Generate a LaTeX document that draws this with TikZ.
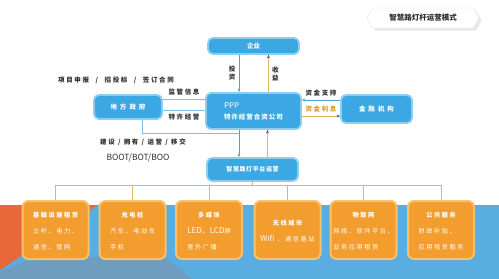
\documentclass[tikz,border=0pt]{standalone}
\usepackage{fontspec}
\setmainfont{Noto Sans CJK SC}
\newfontfamily\widecjk[LetterSpace=25]{Noto Sans CJK SC}
\usepackage{tikz}
\usetikzlibrary{arrows.meta,positioning,calc,shapes.symbols,shadows}
\definecolor{lampBlue}{HTML}{3BA8E4}
\definecolor{lampRim}{HTML}{8CCDF0}
\definecolor{lineBlue}{HTML}{4AA3D6}
\definecolor{lineTan}{HTML}{E3B462}
\definecolor{tipInk}{HTML}{4A5A6A}
\definecolor{svcOrange}{HTML}{F39D2E}
\definecolor{svcRim}{HTML}{F7C26E}
\definecolor{noteInk}{HTML}{2E2E2E}
\definecolor{noteGold}{HTML}{E09B2A}
\definecolor{bandBlue}{HTML}{5AADE0}
\definecolor{bandRed}{HTML}{E8683A}
\definecolor{bandSteel}{HTML}{6F9DC0}
\newcommand{\svc}[3]{\begin{tabular}{@{}l@{}}\multicolumn{1}{@{}c@{}}{\bfseries #1}\\#2\\#3\end{tabular}}
\newcommand{\bigtxt}[1]{{\rmfamily\fontsize{8}{16}\selectfont #1}}
\tikzset{
  lampbox/.style={rounded corners=5pt, fill=lampBlue, draw=lampRim, line width=1.8pt,
                  text=white, align=center, inner sep=2pt, font=\fontsize{6.5}{9}\selectfont\bfseries},
  svcbox/.style={rounded corners=6pt, fill=svcOrange, draw=svcRim, line width=2pt, text=white,
                 minimum width=66pt, minimum height=58pt, align=center, inner sep=2pt,
                 font=\widecjk\fontsize{6.2}{16}\selectfont},
  barr/.style={-{Stealth[length=3.5pt,width=3pt]}, line width=0.8pt, draw=lineBlue},
  oarr/.style={-{Stealth[length=3.5pt,width=3pt,color=tipInk]}, line width=0.8pt, draw=lineTan},
  bline/.style={line width=0.8pt, draw=lineBlue!70},
  tline/.style={line width=0.9pt, draw=lineTan},
  lampnote/.style={font=\widecjk\fontsize{6.5}{8}\selectfont\bfseries, text=noteInk, align=center},
  banner/.style={shape=signal, signal to=west and east, signal pointer angle=120, fill=white,
                 draw=gray!20, drop shadow={opacity=0.18}, minimum width=112pt, minimum height=20pt,
                 font=\fontsize{7.5}{9}\selectfont\bfseries, text=noteInk},
}
\begin{document}
\begin{tikzpicture}[x=1pt, y=-1pt]
  \useasboundingbox (0,0) rectangle (499,279);
  % bottom band
  \fill[bandBlue] (0,205) rectangle (499,279);
  \fill[bandSteel] (0,279) -- (0,272) -- (25,261) -- (160,253) -- (192,279) -- cycle;
  \fill[bandRed] (0,205) -- (98,205) -- (0,270) -- cycle;

  \node[banner] (title) at (423,18) {智慧路灯杆运营模式};

  \node[lampbox, minimum width=91pt, minimum height=16pt] (qiye) at (253.5,46) {企业};
  \node[lampbox, minimum width=95pt, minimum height=36pt, align=left] (ppp) at (253.5,111)
    {{\fontsize{8}{10}\selectfont\mdseries PPP}\\[2pt]特\kern1pt 许\kern1pt 经\kern1pt 营\kern1pt 合\kern1pt 资\kern1pt 公\kern1pt 司};
  \node[lampbox, minimum width=68pt, minimum height=24pt] (zf) at (128,107) {地\kern3pt 方\kern3pt 政\kern3pt 府};
  \node[lampbox, minimum width=71pt, minimum height=28pt] (jr) at (376.5,109) {金\kern3pt 融\kern3pt 机\kern3pt 构};
  \node[lampbox, minimum width=91pt, minimum height=23pt, font=\fontsize{6}{8}\selectfont\bfseries] (pt) at (252.5,169.5) {智\kern.6pt 慧\kern.6pt 路\kern.6pt 灯\kern.6pt 平\kern.6pt 台\kern.6pt 运\kern.6pt 营};

  \node[svcbox] (s1) at (55.5,230) {\svc{基础设施租赁}{立杆、电力、}{通信、管网}};
  \node[svcbox] (s2) at (132.5,230) {\svc{充电桩}{汽车、电动车}{手机}};
  \node[svcbox] (s3) at (209,230) {\svc{多媒体}{\bigtxt{LED、LCD}屏}{室外广播}};
  \node[svcbox] (s4) at (287.5,230) {\svc{无线城市}{\bigtxt{Wifi} 、通信基站}{}};
  \node[svcbox] (s5) at (363.5,230) {\svc{物联网}{网络、软件平台、}{业务应用租赁}};
  \node[svcbox] (s6) at (441,230) {\svc{公共服务}{财政补贴、}{应用租赁服务}};

  % platform to services
  \foreach \i in {1,...,6}
    \draw[tline] (pt.south) -- ++(0,3.5) -| (s\i.north);

  % company and PPP
  \draw[barr] ([xshift=-14.5pt]qiye.south) -- ([xshift=-14.5pt]ppp.north)
    node[midway, left, lampnote] {投\\资};
  \draw[oarr] ([xshift=15pt]ppp.north) -- ([xshift=15pt]qiye.south)
    node[midway, right, lampnote] {收\\益};

  % government
  \draw[bline] (zf.east |- 0,99) -- (ppp.west |- 0,99)
    node[midway, above, lampnote] {监管信息};
  \draw[bline] (zf.east |- 0,110) -- (ppp.west |- 0,110)
    node[midway, below, lampnote] {特许经营};
  \coordinate (join) at (239,133);
  \draw[bline] ([xshift=14pt]zf.south) |- (join);

  % finance
  \draw[barr] (jr.west |- 0,100) -- (ppp.east |- 0,100)
    node[midway, above, lampnote] {资金支持};
  \draw[oarr] (ppp.east |- 0,116) -- (jr.west |- 0,116)
    node[midway, above, lampnote, text=noteGold] {资金利息};

  % PPP and platform
  \draw[barr] ([xshift=-14.5pt]ppp.south) -- ([xshift=-13.5pt]pt.north);
  \draw[oarr] ([xshift=15pt]pt.north) -- ([xshift=14pt]ppp.south);

  \node[lampnote] (bid) at (116,80) {项目申报\quad /\quad 招投标\quad /\quad 签订合同};
  \node[lampnote] (own) at (143,142) {建设\enspace /\enspace 拥有\enspace /\enspace 运营\enspace /\enspace 移交};
  \node[font=\fontsize{8.5}{10}\selectfont, text=noteInk] (mode) at (138,158) {BOOT/BOT/BOO};
\end{tikzpicture}
\end{document}
